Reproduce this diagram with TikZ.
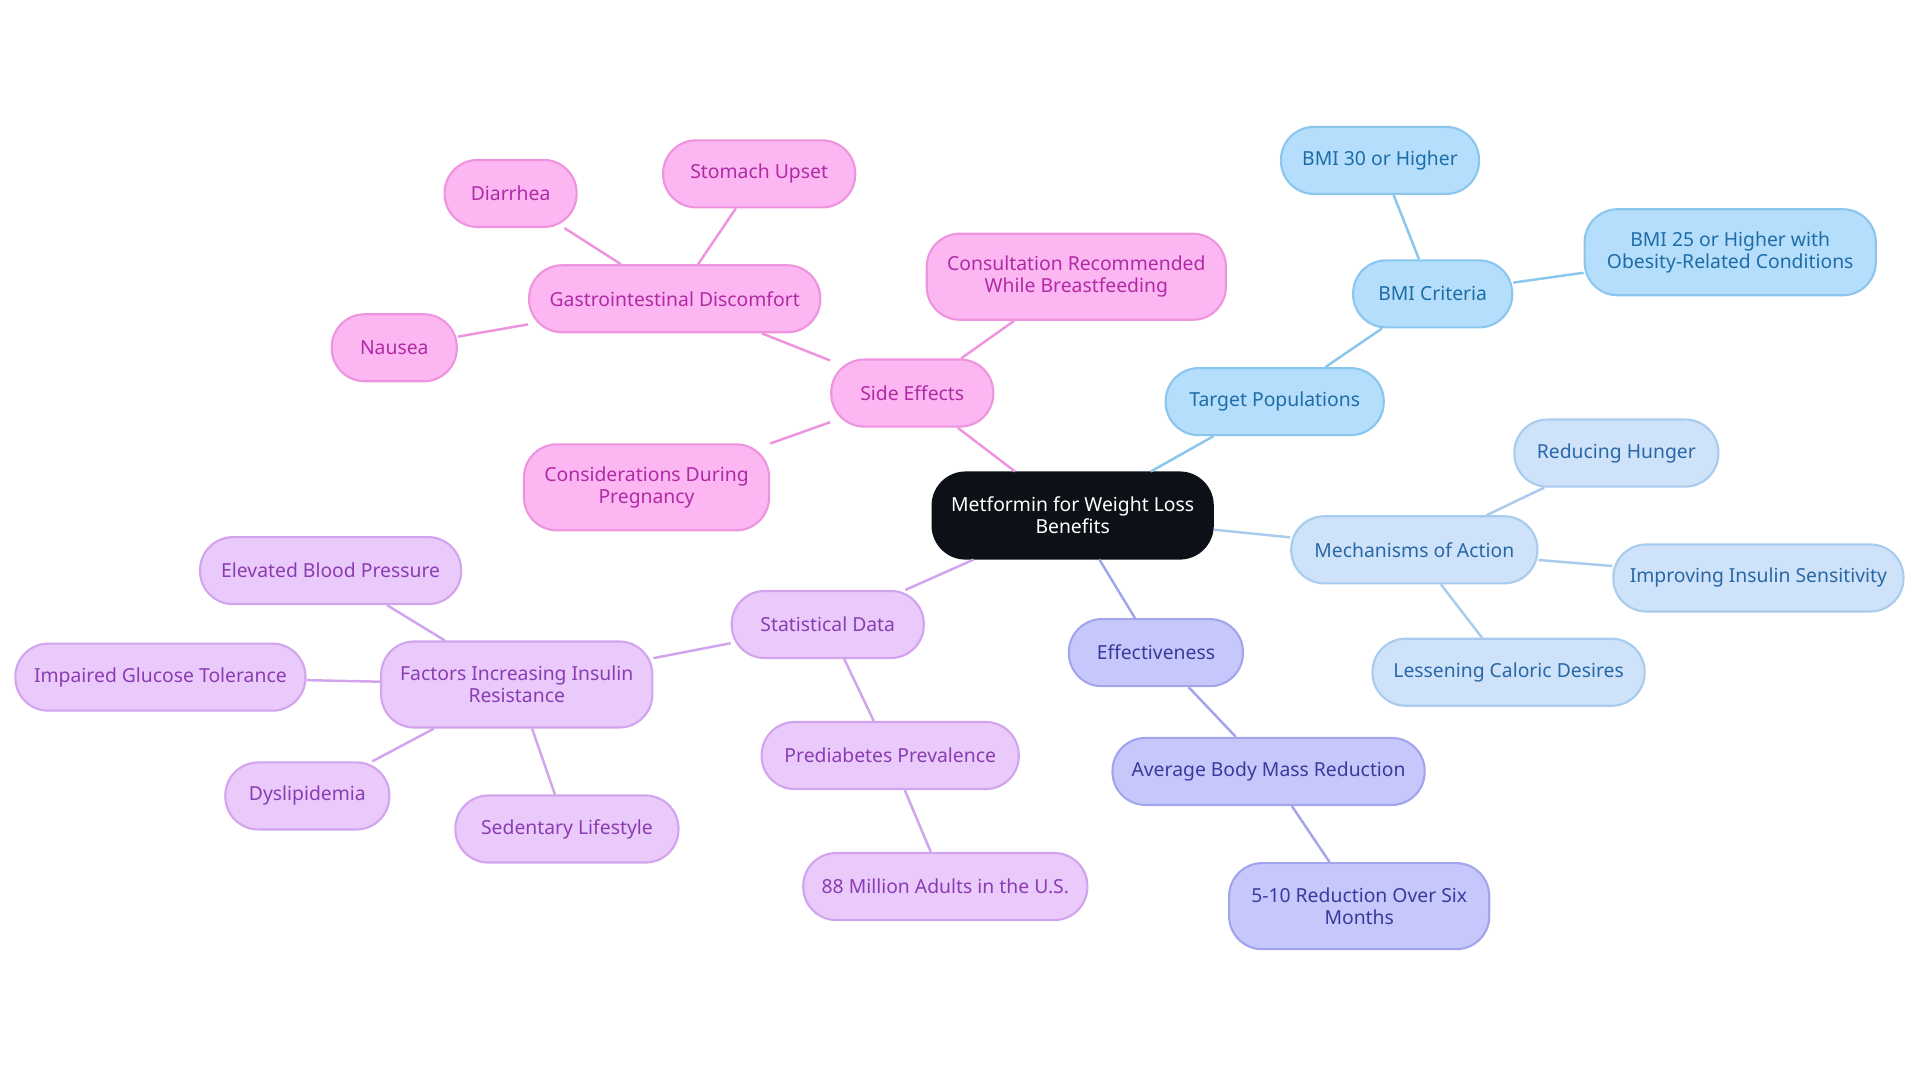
\documentclass[tikz,border=0pt]{standalone}
\usepackage{fontspec}
\setmainfont{Noto Sans}
\usetikzlibrary{positioning}
\definecolor{pkfill}{HTML}{FCB6F1}\definecolor{pkline}{HTML}{EE94DF}\definecolor{pktext}{HTML}{B02AA6}
\definecolor{vifill}{HTML}{EAC9FB}\definecolor{viline}{HTML}{D2A4EE}\definecolor{vitext}{HTML}{8A3DB2}
\definecolor{bpfill}{HTML}{C6C8FB}\definecolor{bpline}{HTML}{A2A5EC}\definecolor{bptext}{HTML}{3B3A9C}
\definecolor{tbfill}{HTML}{B4DEFB}\definecolor{tbline}{HTML}{8BC6EE}\definecolor{tbtext}{HTML}{1F6CA6}
\definecolor{mbfill}{HTML}{CEE3FA}\definecolor{mbline}{HTML}{A8CBEE}\definecolor{mbtext}{HTML}{2A67A6}
\definecolor{core}{HTML}{0D1117}

\begin{document}
\begin{tikzpicture}[
  x=0.012245cm, y=-0.012245cm,
  topic/.style={rectangle, rounded corners=0.33cm, line width=0.6pt, minimum height=0.67cm,
    font=\fontsize{5.5}{6.2}\selectfont, align=center, inner xsep=2pt},
  twoline/.style={minimum height=0.86cm},
  pk/.style={topic, fill=pkfill, draw=pkline, text=pktext},
  vi/.style={topic, fill=vifill, draw=viline, text=vitext},
  bp/.style={topic, fill=bpfill, draw=bpline, text=bptext},
  tb/.style={topic, fill=tbfill, draw=tbline, text=tbtext},
  mb/.style={topic, fill=mbfill, draw=mbline, text=mbtext},
  link/.style={line width=0.7pt}
]
\useasboundingbox (0,0) rectangle (1568,884);

% Center
\node[topic, twoline, fill=core, draw=core, text=white, minimum width=2.80cm] (root) at (876,421) {Metformin for Weight Loss\\Benefits};

% Side effects
\node[pk, minimum width=1.62cm] (side) at (745,321) {Side Effects};
\node[pk, minimum width=2.91cm] (gastro) at (551,244) {Gastrointestinal Discomfort};
\node[pk, minimum width=1.32cm] (diarrhea) at (417,158) {Diarrhea};
\node[pk, minimum width=1.92cm] (stomach) at (620,142) {Stomach Upset};
\node[pk, minimum width=1.25cm] (nausea) at (322,284) {Nausea};
\node[pk, twoline, minimum width=2.99cm] (consult) at (879,226) {Consultation Recommended\\While Breastfeeding};
\node[pk, twoline, minimum width=2.45cm] (pregnancy) at (528,398) {Considerations During\\Pregnancy};

% Target populations
\node[tb, minimum width=2.18cm] (target) at (1041,328) {Target Populations};
\node[tb, minimum width=1.59cm] (bmicrit) at (1170,240) {BMI Criteria};
\node[tb, minimum width=1.98cm] (bmithirty) at (1127,131) {BMI 30 or Higher};
\node[tb, twoline, minimum width=2.91cm] (bmitwentyfive) at (1413,206) {BMI 25 or Higher with\\Obesity-Related Conditions};

% Mechanisms
\node[mb, minimum width=2.46cm] (mech) at (1155,449) {Mechanisms of Action};
\node[mb, minimum width=2.04cm] (hunger) at (1320,370) {Reducing Hunger};
\node[mb, minimum width=2.90cm] (insulin) at (1436,472) {Improving Insulin Sensitivity};
\node[mb, minimum width=2.72cm] (caloric) at (1232,549) {Lessening Caloric Desires};

% Effectiveness
\node[bp, minimum width=1.74cm] (effect) at (944,533) {Effectiveness};
\node[bp, minimum width=3.12cm] (avgbmr) at (1036,630) {Average Body Mass Reduction};
\node[bp, twoline, minimum width=2.60cm] (sixmonths) at (1110,740) {5-10 Reduction Over Six\\Months};

% Statistical data
\node[vi, minimum width=1.92cm] (stats) at (676,510) {Statistical Data};
\node[vi, minimum width=2.57cm] (prediab) at (727,617) {Prediabetes Prevalence};
\node[vi, minimum width=2.84cm] (adults) at (772,724) {88 Million Adults in the U.S.};
\node[vi, twoline, minimum width=2.71cm] (factors) at (422,559) {Factors Increasing Insulin\\Resistance};
\node[vi, minimum width=2.61cm] (bp) at (270,466) {Elevated Blood Pressure};
\node[vi, minimum width=2.90cm] (glucose) at (131,553) {Impaired Glucose Tolerance};
\node[vi, minimum width=1.64cm] (dyslip) at (251,650) {Dyslipidemia};
\node[vi, minimum width=2.23cm] (sedentary) at (463,677) {Sedentary Lifestyle};

% Links
\draw[link, pkline] (root) -- (side);
\draw[link, pkline] (side) -- (gastro);
\draw[link, pkline] (gastro) -- (diarrhea);
\draw[link, pkline] (gastro) -- (stomach);
\draw[link, pkline] (gastro) -- (nausea);
\draw[link, pkline] (side) -- (consult);
\draw[link, pkline] (side) -- (pregnancy);
\draw[link, tbline] (root) -- (target);
\draw[link, tbline] (target) -- (bmicrit);
\draw[link, tbline] (bmicrit) -- (bmithirty);
\draw[link, tbline] (bmicrit) -- (bmitwentyfive);
\draw[link, mbline] (root) -- (mech);
\draw[link, mbline] (mech) -- (hunger);
\draw[link, mbline] (mech) -- (insulin);
\draw[link, mbline] (mech) -- (caloric);
\draw[link, bpline] (root) -- (effect);
\draw[link, bpline] (effect) -- (avgbmr);
\draw[link, bpline] (avgbmr) -- (sixmonths);
\draw[link, viline] (root) -- (stats);
\draw[link, viline] (stats) -- (prediab);
\draw[link, viline] (prediab) -- (adults);
\draw[link, viline] (stats) -- (factors);
\draw[link, viline] (factors) -- (bp);
\draw[link, viline] (factors) -- (glucose);
\draw[link, viline] (factors) -- (dyslip);
\draw[link, viline] (factors) -- (sedentary);

\end{tikzpicture}
\end{document}
